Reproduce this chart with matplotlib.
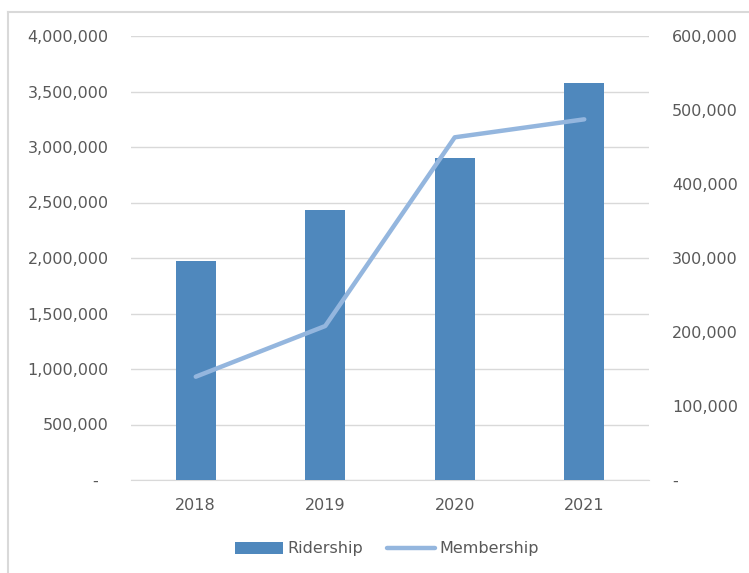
import matplotlib
matplotlib.use("Agg")
import matplotlib.pyplot as plt
from matplotlib.lines import Line2D
from matplotlib.ticker import FuncFormatter

years = ["2018", "2019", "2020", "2021"]
ridership = [1975000, 2432000, 2903000, 3574000]
membership = [139600, 208100, 463100, 487400]

W, H = 749, 573
fig = plt.figure(figsize=(W / 100, H / 100), dpi=100)
plt.rcParams['font.family'] = ['DejaVu Sans']

ax = fig.add_axes([131 / W, 1 - 480 / H, (649 - 131) / W, (480 - 36) / H])
ax2 = ax.twinx()

text_col = "#595959"
bar_col = "#4F88BD"
line_col = "#94B6DE"
grid_col = "#D9D9D9"

x = list(range(len(years)))
ax.bar(x, ridership, width=0.31, color=bar_col, zorder=3, label="Ridership")
ax2.plot(x, membership, color=line_col, lw=3.2, solid_capstyle="round", zorder=4, label="Membership")

ax.set_xlim(-0.5, 3.5)
ax.set_ylim(0, 4000000)
ax2.set_ylim(0, 600000)
ax.set_yticks(range(0, 4000001, 500000))
ax2.set_yticks(range(0, 600001, 100000))

def fmt_left(v, p):
    return "-  " if v == 0 else f"{int(v):,}"

def fmt_right(v, p):
    return "-" if v == 0 else f"{int(v):,}"

ax.yaxis.set_major_formatter(FuncFormatter(fmt_left))
ax2.yaxis.set_major_formatter(FuncFormatter(fmt_right))
ax.set_xticks(x)
ax.set_xticklabels(years)

ax.grid(axis="y", color=grid_col, lw=1, zorder=0)
ax.set_axisbelow(True)
for a in (ax, ax2):
    for s in a.spines.values():
        s.set_visible(False)
ax.spines["bottom"].set_visible(True)
ax.spines["bottom"].set_color(grid_col)
ax.spines["bottom"].set_zorder(2)

ax.tick_params(axis="y", length=0, pad=16, labelsize=11.5, labelcolor=text_col)
ax2.tick_params(axis="y", length=0, pad=16.5, labelsize=11.5, labelcolor=text_col)
ax.tick_params(axis="x", length=0, pad=13, labelsize=11.5, labelcolor=text_col)

h1, l1 = ax.get_legend_handles_labels()
h2, l2 = ax2.get_legend_handles_labels()
leg = fig.legend(h1 + h2, l1 + l2, loc="center", bbox_to_anchor=(387 / W, 1 - 549 / H),
                 ncol=2, frameon=False, fontsize=11.5, handlelength=3.0, handletextpad=0.3,
                 columnspacing=1.5)
for t in leg.get_texts():
    t.set_color(text_col)

fig.add_artist(Line2D([8 / W, 8 / W], [0, 1 - 12 / H], color=grid_col, lw=1.5, transform=fig.transFigure))
fig.add_artist(Line2D([8 / W, 1], [1 - 12 / H, 1 - 12 / H], color=grid_col, lw=1.5, transform=fig.transFigure))

fig.savefig("out.png", dpi=100, facecolor="white")
